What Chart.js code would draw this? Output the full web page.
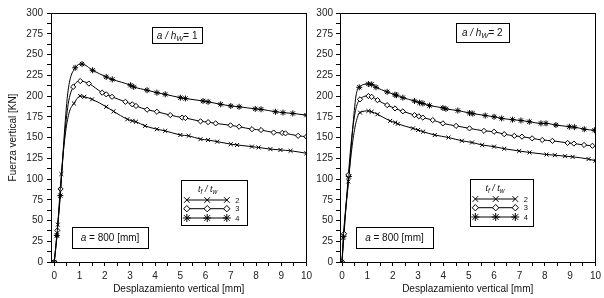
<!DOCTYPE html>
<html><head><meta charset="utf-8">
<script src="https://cdn.jsdelivr.net/npm/chart.js@4"></script>
<style>
html,body{margin:0;padding:0;background:#fff;width:604px;height:298px;overflow:hidden;position:relative}
canvas{position:absolute;top:0}
#c1{left:0}
#c2{left:300px}
</style></head><body>
<canvas id="c1" width="316" height="298"></canvas>
<canvas id="c2" width="305" height="298"></canvas>
<script>
// ---------------- data ----------------
const ratioLabels = ['2', '3', '4'];          // t_f / t_w
const panelRatio = ['1', '2'];                 // a / h_W
const spanLabel = '800';                       // a [mm]
const xTitle = 'Desplazamiento vertical [mm]';
const yTitle = 'Fuerza vertical [KN]';
const xTickValues = [0,0.5,1,1.5,2,2.5,3,3.5,4,4.5,5,5.5,6,6.5,7,7.5,8,8.5,9,9.5,10];
const xTickLabels = ['0','1','2','3','4','5','6','7','8','9','10'];   // on whole numbers
const yTickValues = [0,12.5,25,37.5,50,62.5,75,87.5,100,112.5,125,137.5,150,162.5,175,187.5,200,212.5,225,237.5,250,262.5,275,287.5,300];
const yTickLabels = ['0','25','50','75','100','125','150','175','200','225','250','275','300'];

// a/hW = 1
const p1_t2 = [[0,0],[0.11,32],[0.14,45],[0.28,106],[0.45,157],[0.6,181],[0.78,191],[1.03,200],[1.19,199],[1.5,196],[2.06,187],[2.35,181.5],[2.9,172],[3.1,170],[3.24,169],[3.6,164],[4.07,160],[4.4,158],[5.0,153],[5.33,152],[5.8,148],[6.1,147],[6.46,145],[7.0,142],[7.25,141],[7.84,139],[8.1,138],[8.57,136],[8.97,135],[9.37,134],[10,131]];
const p1_t3 = [[0,0],[0.12,38],[0.25,88],[0.4,148],[0.55,190],[0.75,211],[1.03,218],[1.37,215],[1.9,204],[2.06,202],[2.29,199],[2.82,193],[3.09,190],[3.24,188],[3.68,183.5],[4.07,181],[4.6,177],[5.07,174],[5.2,173.5],[5.8,169.5],[6.1,168.5],[6.4,167],[6.99,164.7],[7.33,163],[7.84,160],[8.2,159],[8.7,156],[9.04,155.5],[9.17,155],[9.67,152],[10,151]];
const p1_t4 = [[0,0],[0.1,32],[0.24,80],[0.4,155],[0.55,207],[0.83,234],[1.1,238.5],[1.52,231],[2.06,223],[2.3,220],[3.02,213],[3.15,211],[3.68,207],[4.07,204],[4.4,202],[5.0,198],[5.2,197],[5.9,194],[6.1,193],[6.6,190],[7.0,188],[7.33,187],[7.97,184.5],[8.2,184],[8.77,181],[9.07,180],[9.46,179],[10,177]];

// a/hW = 2
const p2_t2 = [[0,0],[0.05,29],[0.25,97],[0.4,140],[0.55,168],[0.71,180],[1.04,182],[1.17,181],[1.4,178],[1.9,170],[2.1,168],[2.2,166.5],[2.8,161],[3.0,159],[3.2,157],[3.66,153],[4.2,150],[4.73,146],[5.13,144],[5.53,141],[6.0,139],[6.4,136.5],[6.99,133.7],[7.4,132],[8.07,129.5],[8.4,128.7],[8.8,127.5],[9.1,126.7],[9.73,124],[10,122]];
const p2_t3 = [[0,0],[0.08,34],[0.25,105],[0.4,155],[0.55,185],[0.71,196],[1.04,200],[1.17,199],[1.4,195],[1.78,189],[2.09,185],[2.4,181.5],[2.86,177],[3.03,175.5],[3.19,174],[3.58,171],[3.98,167],[4.5,164],[5.03,161],[5.6,158],[6.0,157],[6.4,154],[6.8,152],[7.1,151],[7.5,149],[7.9,147],[8.3,146],[8.9,143.5],[9.15,142.7],[9.55,141],[9.88,140]];
const p2_t4 = [[0,0],[0.06,31],[0.27,103],[0.42,160],[0.55,200],[0.68,210.5],[1.04,214.5],[1.17,214],[1.34,210.5],[1.78,205],[2.09,201.5],[2.15,201],[2.4,198],[2.86,194],[3.06,192],[3.19,191],[3.45,188.5],[3.98,185.7],[4.1,184.5],[4.57,182.5],[5.03,179.5],[5.16,178.8],[5.65,176.5],[6.0,175],[6.3,173],[6.73,171.5],[7.06,170.5],[7.39,169],[7.85,167],[8.05,167],[8.44,165],[8.97,163],[9.17,162.5],[9.56,160],[9.96,158.7]];

// ---------------- styles ----------------
const FAM = '"Liberation Sans", Arial, sans-serif';
const TXT = '#222';
const TICK_LEN = 4, TICK_PAD = 4, FONT_SIZE = 10;
const markers = [
  {pointStyle:'crossRot', radius:2.8, fill:'#000'},
  {pointStyle:'rectRot', radius:2.6, fill:'#fff'},
  {pointStyle:'star', radius:3, fill:'#000'}
];

function toXY(arr){ return arr.map(p => ({x:p[0], y:p[1]})); }
function ds(arr, m){
  return {
    data: toXY(arr), borderColor:'#000', borderWidth:1, fill:false,
    pointStyle:m.pointStyle,
    pointRadius: c => { const r = c.raw; return (r && r.x > 0.3 && r.x < 0.65) ? 0 : m.radius; },
    pointBorderWidth:1,
    pointBorderColor:'#000', pointBackgroundColor:m.fill,
    cubicInterpolationMode:'monotone'
  };
}

function drawRich(ctx, parts, cx, cy){
  let w = 0;
  parts.forEach(p => { ctx.font = p.f; p.w = ctx.measureText(p.t).width; w += p.w; });
  let x = cx - w/2;
  ctx.textBaseline = 'alphabetic'; ctx.textAlign = 'left';
  parts.forEach(p => { ctx.font = p.f; ctx.fillText(p.t, x, cy + (p.dy||0)); x += p.w; });
}

const annotPlugin = {
  id:'annot',
  afterDatasetsDraw(chart, args, o){
    const {ctx, chartArea:a} = chart;
    const W = a.right - a.left, H = a.bottom - a.top;
    ctx.save();
    ctx.strokeStyle = '#000'; ctx.lineWidth = 1; ctx.fillStyle = '#000';
    ctx.strokeRect(Math.round(a.left)+0.5, Math.round(a.top)+0.5, Math.round(W), Math.round(H));
    const R = (x,y,w,h) => { ctx.fillStyle='#fff'; ctx.fillRect(x,y,w,h); ctx.strokeRect(Math.round(x)+0.5, Math.round(y)+0.5, Math.round(w), Math.round(h)); ctx.fillStyle='#111'; };
    const bx = a.left + o.ratioBox[0]*W, by = a.top + o.ratioBox[1]*H, bw = o.ratioBox[2], bh = o.ratioBox[3];
    R(bx, by, bw, bh);
    drawRich(ctx, [
      {t:'a / h', f:'italic 10px '+FAM},
      {t:'W', f:'italic 7.5px '+FAM, dy:2},
      {t:'= '+o.ratio, f:'10px '+FAM}
    ], bx + bw/2, by + bh/2 + 3.5);
    const sx = a.left + o.spanBox[0]*W, sy = a.top + o.spanBox[1]*H, sw = o.spanBox[2], sh = o.spanBox[3];
    R(sx, sy, sw, sh);
    drawRich(ctx, [
      {t:'a', f:'italic 10px '+FAM},
      {t:' = '+spanLabel+' [mm]', f:'10px '+FAM}
    ], sx + sw/2, sy + sh/2 + 3.5);
    const lx = a.left + o.legBox[0]*W, ly = a.top + o.legBox[1]*H, lw = o.legBox[2], lh = o.legBox[3];
    R(lx, ly, lw, lh);
    drawRich(ctx, [
      {t:'t', f:'italic 9px '+FAM},
      {t:'f', f:'italic 6.5px '+FAM, dy:1.5},
      {t:' / ', f:'italic 9px '+FAM},
      {t:'t', f:'italic 9px '+FAM},
      {t:'w', f:'italic 6.5px '+FAM, dy:1.5}
    ], lx + lw*0.4, ly + 12);
    const rows = [20, 28.7, 38];
    const cols = [5.6, 26, 45.6];
    rows.forEach((ry, i) => {
      const y = ly + ry;
      ctx.strokeStyle = '#000'; ctx.lineWidth = 1;
      ctx.beginPath(); ctx.moveTo(lx + cols[0], y); ctx.lineTo(lx + cols[2], y); ctx.stroke();
      cols.forEach(cx => {
        const m = markers[i];
        ctx.fillStyle = m.fill; ctx.strokeStyle = '#000'; ctx.lineWidth = 1;
        Chart.helpers.drawPoint(ctx, {pointStyle:m.pointStyle, radius: i===1 ? 3.2 : 4, borderWidth:1, rotation:0}, lx + cx, y);
      });
      ctx.fillStyle = '#111'; ctx.font = '7.5px '+FAM; ctx.textAlign='left'; ctx.textBaseline='middle';
      ctx.fillText(ratioLabels[i], lx + 54, y + 0.5);
    });
    ctx.restore();
  },
  // make sure the first x tick label is shown, placed through the x scale itself
  afterDraw(chart){
    const s = chart.scales.x, ctx = chart.ctx;
    const x = s.getPixelForValue(xTickValues[0]);
    const y = s.top + TICK_LEN + TICK_PAD + FONT_SIZE * 1.2 / 2;
    ctx.save();
    ctx.fillStyle = '#fff';
    ctx.fillRect(x - 4, y - 6, 8, 12);
    ctx.font = FONT_SIZE + 'px ' + FAM;
    ctx.fillStyle = TXT;
    ctx.textAlign = 'center';
    ctx.textBaseline = 'middle';
    ctx.fillText(xTickLabels[0], x, y);
    ctx.restore();
  }
};

function labelFor(v, labels, step){
  const k = Math.round(v / step);
  return (Math.abs(v - k*step) < 1e-6 && labels[k] !== undefined) ? labels[k] : '';
}

function makeChart(id, sets, xmin, yWidth, showYTitle, opts){
  const font = {family:FAM, size:FONT_SIZE};
  return new Chart(document.getElementById(id), {
    type:'line',
    data:{datasets: sets.map((s,i) => ds(s, markers[i]))},
    options:{
      responsive:false, animation:false,
      layout:{padding:{left:0, right:8, top:13, bottom:0}},
      plugins:{legend:{display:false}, tooltip:{enabled:false}, annot:opts},
      scales:{
        x:{type:'linear', min:xmin, max:10,
          afterBuildTicks: s => { s.ticks = xTickValues.map(v => ({value:v})); },
          afterFit: s => { s.height = 36; },
          ticks:{autoSkip:false, maxRotation:0, padding:TICK_PAD, color:TXT, font,
            callback: v => labelFor(v, xTickLabels, 1)},
          grid:{drawOnChartArea:false, drawTicks:true, tickLength:TICK_LEN, color:'#000'},
          border:{display:false},
          title:{display:true, text:xTitle, color:'#111', font, padding:{top:0, bottom:3}}
        },
        y:{type:'linear', min:0, max:300,
          afterBuildTicks: s => { s.ticks = yTickValues.map(v => ({value:v})); },
          afterFit: s => { s.width = yWidth; },
          ticks:{autoSkip:false, padding: showYTitle ? 4 : 3, color:TXT, font,
            callback: v => labelFor(v, yTickLabels, 25)},
          grid:{drawOnChartArea:false, drawTicks:true, tickLength:TICK_LEN, color:'#000'},
          border:{display:false},
          title:{display:showYTitle, text:yTitle, color:'#111', font, padding:{top:7, bottom:0}}
        }
      }
    },
    plugins:[annotPlugin]
  });
}

makeChart('c1', [p1_t2, p1_t3, p1_t4], -0.13, 51, true, {
  ratio: panelRatio[0],
  ratioBox:[(152-51)/255, (27-13)/249, 50, 16],
  spanBox:[(72-51)/255, (227-13)/249, 76, 21],
  legBox:[(181-51)/255, (180-13)/249, 66, 45]
});
makeChart('c2', [p2_t2, p2_t3, p2_t4], -0.08, 40, false, {
  ratio: panelRatio[1],
  ratioBox:[(456-340)/256, (23-13)/249, 53, 19],
  spanBox:[(356-340)/256, (227-13)/249, 77, 21],
  legBox:[(470-340)/256, (179-13)/249, 63, 47]
});
</script>
</body></html>
